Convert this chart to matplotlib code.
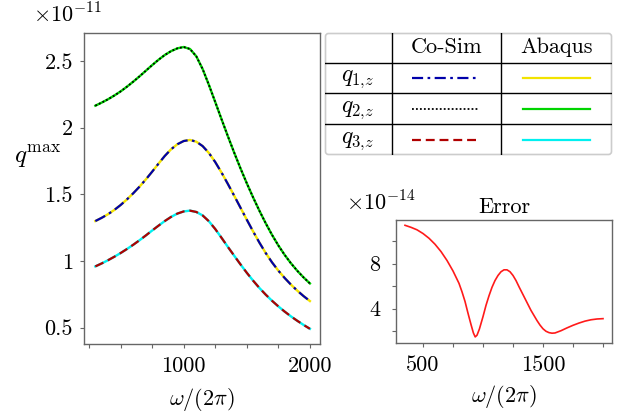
import numpy as np
import matplotlib
matplotlib.use("Agg")
import matplotlib.pyplot as plt
from matplotlib.patches import FancyBboxPatch

plt.rcParams['font.family'] = 'serif'
plt.rcParams['font.serif'] = ['cmr10']
plt.rcParams['mathtext.fontset'] = 'cm'
plt.rcParams['axes.formatter.use_mathtext'] = True
plt.rcParams['font.size'] = 16

# ---- data (values in units of 1e-11 and 1e-14) ----
freq = [300, 350, 400, 450, 500, 550, 600, 650, 700, 750, 800, 850, 900, 950,
        1000, 1050, 1100, 1150, 1200, 1250, 1300, 1350, 1400, 1450, 1500, 1550,
        1600, 1650, 1700, 1750, 1800, 1850, 1900, 1950, 2000]

q1 = [1.300, 1.324, 1.351, 1.383, 1.420, 1.462, 1.508, 1.558, 1.612, 1.670, 1.730,
      1.788, 1.838, 1.876, 1.900, 1.908, 1.895, 1.862, 1.810, 1.742, 1.663, 1.578,
      1.490, 1.400, 1.310, 1.222, 1.138, 1.060, 0.990, 0.928, 0.873, 0.823, 0.778,
      0.737, 0.700]

q2 = [2.165, 2.188, 2.213, 2.241, 2.272, 2.307, 2.345, 2.385, 2.427, 2.469, 2.509,
      2.545, 2.574, 2.595, 2.605, 2.590, 2.535, 2.440, 2.320, 2.192, 2.063, 1.936,
      1.813, 1.695, 1.583, 1.477, 1.377, 1.283, 1.196, 1.117, 1.046, 0.983, 0.927,
      0.877, 0.832]

q3 = [0.960, 0.982, 1.006, 1.032, 1.060, 1.090, 1.122, 1.156, 1.192, 1.229, 1.265,
      1.300, 1.331, 1.356, 1.372, 1.378, 1.368, 1.342, 1.298, 1.240, 1.174, 1.106,
      1.040, 0.975, 0.912, 0.853, 0.798, 0.748, 0.702, 0.660, 0.621, 0.585, 0.552,
      0.521, 0.492]

err_freq = [350, 400, 450, 500, 550, 600, 650, 700, 750, 800, 825, 850, 875, 900,
            920, 935, 950, 970, 1000, 1025, 1050, 1075, 1100, 1125, 1150, 1175,
            1200, 1225, 1250, 1275, 1300, 1350, 1400, 1450, 1475, 1500, 1525, 1550,
            1575, 1600, 1650, 1700, 1750, 1800, 1850, 1900, 1950, 2000]
err = [11.40, 11.22, 11.00, 10.67, 10.25, 9.72, 9.07, 8.28, 7.35, 6.25, 5.50, 4.65,
       3.60, 2.60, 1.85, 1.50, 1.65, 2.20, 3.30, 4.30, 5.15, 5.90, 6.50, 6.95, 7.28,
       7.45, 7.45, 7.28, 6.95, 6.50, 5.95, 4.90, 3.85, 2.95, 2.55, 2.22, 2.00, 1.88,
       1.83, 1.85, 2.05, 2.30, 2.53, 2.73, 2.90, 3.02, 3.09, 3.12]

row_labels = [r'$q_{1{,}z}$', r'$q_{2{,}z}$', r'$q_{3{,}z}$']
col_labels = ['Co-Sim', 'Abaqus']
cosim_colors = ['#0000aa', 'black', '#b00000']
cosim_styles = [(0, (5, 2, 1.2, 2)), (0, (1, 1.2)), (0, (4, 2.2))]
cosim_widths = [1.6, 1.3, 1.6]
abaqus_colors = ['#f2e300', '#00d400', '#00f0f0']

W, H = 623, 412


def px(x0, y0, x1, y1):
    # pixel box -> figure fraction rect
    return [x0 / W, 1 - y1 / H, (x1 - x0) / W, (y1 - y0) / H]


def style_axes(ax):
    for s in ax.spines.values():
        s.set_color('#666666')
        s.set_linewidth(1.0)
    ax.tick_params(direction='out', length=3, width=0.8, color='#666666',
                   labelcolor='black')


fig = plt.figure(figsize=(6.23, 4.12), dpi=100)

# ---- main plot ----
ax = fig.add_axes(px(84, 33, 320, 344))
for q, c in zip([q1, q2, q3], abaqus_colors):
    ax.plot(freq, q, color=c, lw=1.7)
for q, c, ls, w in zip([q1, q2, q3], cosim_colors, cosim_styles, cosim_widths):
    ax.plot(freq, q, color=c, lw=w, linestyle=ls)
ax.set_xlim(210, 2080)
ax.set_ylim(0.378, 2.71)
style_axes(ax)
ax.tick_params(axis='y', pad=5)
ax.tick_params(axis='x', pad=6)
xt = np.arange(250, 2001, 250)
ax.set_xticks(xt)
ax.set_xticklabels([str(v) if v % 1000 == 0 else '' for v in xt])
ax.set_yticks([0.5, 1, 1.5, 2, 2.5])
ax.set_yticklabels(['0.5', '1', '1.5', '2', '2.5'])
ax.set_xlabel(r'$\omega/(2\pi)$', labelpad=7)
fig.text(38 / W, 1 - 157 / H, r'$q^{\max}$', ha='center', va='center', fontsize=18)
fig.text(33 / W, 1 - 14 / H, r'$\times10^{-11}$', ha='left', va='center')

# ---- error plot ----
ax2 = fig.add_axes(px(396, 220, 612, 343))
ax2.plot(err_freq, err, color='#ff1a1a', lw=1.2)
ax2.set_xlim(275, 2075)
ax2.set_ylim(0.96, 11.87)
style_axes(ax2)
ax2.tick_params(axis='y', pad=8)
ax2.tick_params(axis='x', pad=6)
xt2 = np.arange(500, 2001, 250)
ax2.set_xticks(xt2)
ax2.set_xticklabels(['500' if v == 500 else '1500' if v == 1500 else '' for v in xt2])
ax2.set_yticks([2, 4, 6, 8, 10])
ax2.set_yticklabels(['', '4', '', '8', ''])
ax2.set_xlabel(r'$\omega/(2\pi)$', labelpad=6)
ax2.set_title('Error', fontsize=16, pad=5)
fig.text(346 / W, 1 - 202 / H, r'$\times10^{-14}$', ha='left', va='center')

# ---- legend table ----
tw, th = 612 - 325, 155 - 33
axl = fig.add_axes(px(325, 33, 612, 155))
axl.set_xlim(0, tw)
axl.set_ylim(th, 0)
axl.axis('off')
axl.add_patch(FancyBboxPatch((0.5, 0.5), tw - 1, th - 1,
                             boxstyle='round,pad=0,rounding_size=3',
                             fc='white', ec='#cccccc', lw=1.2, clip_on=False))
col_x = [67, 176]
row_y = [29.7, 60.3, 91.3]
for x in col_x:
    axl.plot([x, x], [0, th], color='black', lw=1.0)
for y in row_y:
    axl.plot([0, tw], [y, y], color='black', lw=1.0)
axl.text(122, 14.5, col_labels[0], ha='center', va='center')
axl.text(232, 14.5, col_labels[1], ha='center', va='center')
row_c = [45, 76, 107]
for i in range(3):
    axl.text(33, row_c[i] + 1, row_labels[i], ha='center', va='center', fontsize=17)
    axl.plot([87, 153], [row_c[i], row_c[i]], color=cosim_colors[i],
             lw=cosim_widths[i], linestyle=cosim_styles[i])
    axl.plot([198, 265], [row_c[i], row_c[i]], color=abaqus_colors[i], lw=1.6)

fig.savefig('out.png', dpi=100)
